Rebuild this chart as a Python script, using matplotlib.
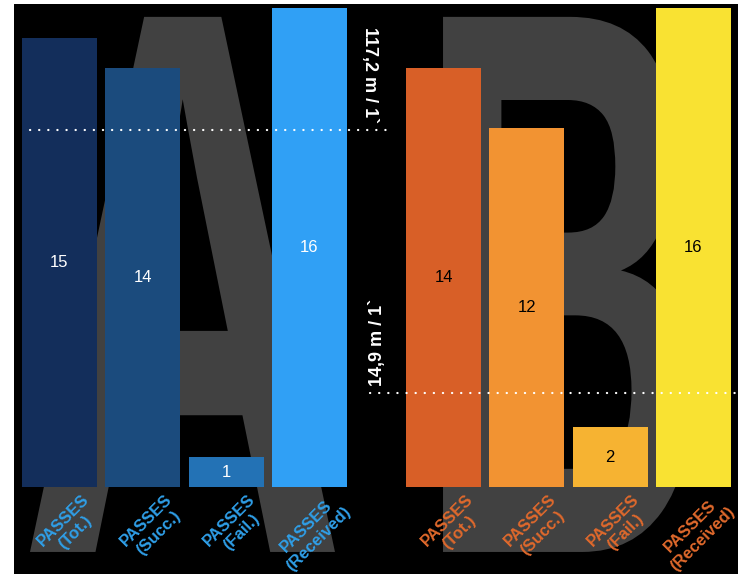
import matplotlib.pyplot as plt
from matplotlib.textpath import TextPath
from matplotlib.patches import PathPatch
from matplotlib.font_manager import FontProperties
from matplotlib.transforms import Affine2D

# data
categories = ["PASSES\n(Tot.)", "PASSES\n(Succ.)", "PASSES\n(Fail.)", "PASSES\n(Received)"]
team_a = [15, 14, 1, 16]
team_b = [14, 12, 2, 16]
ref_a = 11.92   # 117,2 m / 1`
ref_b = 3.14    # 14,9 m / 1`
ref_a_label = "117,2 m / 1`"
ref_b_label = "14,9 m / 1`"

colors_a = ["#132e5b", "#1b4b7d", "#2372b5", "#30a0f5"]
colors_b = ["#d85f27", "#f29332", "#f6b332", "#f9e232"]

plt.rcParams["font.family"] = ["Liberation Sans", "DejaVu Sans"]

fig = plt.figure(figsize=(7.38, 5.74), dpi=100)
fig.patch.set_facecolor("white")
ax = fig.add_axes([14 / 738, 0, 724 / 738, 570 / 574])
ax.set_xlim(-0.546, 8.145)
ax.set_ylim(-2.906, 16.13)
ax.axis("off")
ax.add_patch(plt.Rectangle((0, 0), 1, 1, transform=ax.transAxes, color="black", zorder=0))

# big background letters
fp = FontProperties(family="Liberation Sans", weight="bold")


def big_letter(ch, x0, x1, y0, y1):
    p = TextPath((0, 0), ch, size=1, prop=fp)
    ext = p.get_extents()
    tr = (Affine2D().translate(-ext.x0, -ext.y0)
          .scale((x1 - x0) / ext.width, (y1 - y0) / ext.height)
          .translate(x0, y0))
    ax.add_patch(PathPatch(tr.transform_path(p), facecolor="#414141",
                           edgecolor="none", zorder=1))


big_letter("A", -0.354, 3.307, -2.17, 15.70)
big_letter("B", 4.604, 7.57, -2.17, 15.70)

pos_a = [0, 1, 2, 3]
pos_b = [4.61, 5.61, 6.61, 7.61]

ax.bar(pos_a, team_a, width=0.9, color=colors_a, zorder=2)
ax.bar(pos_b, team_b, width=0.9, color=colors_b, zorder=2)

for x, v in zip(pos_a, team_a):
    ax.text(x, v / 2, str(v), color="white", ha="center", va="center",
            fontsize=12, zorder=4)
for x, v in zip(pos_b, team_b):
    ax.text(x, v / 2, str(v), color="black", ha="center", va="center",
            fontsize=12, zorder=4)

for x, lab in zip(pos_a, categories):
    ax.text(x + 0.26, -0.15, lab, color="#2f9fe8", rotation=45, ha="right", va="top",
            rotation_mode="anchor", multialignment="center", fontsize=12,
            fontweight="bold", zorder=4)
for x, lab in zip(pos_b, categories):
    ax.text(x + 0.26, -0.15, lab, color="#e0692c", rotation=45, ha="right", va="top",
            rotation_mode="anchor", multialignment="center", fontsize=12,
            fontweight="bold", zorder=4)

# reference lines
ax.plot([-0.354, 3.99], [ref_a, ref_a], color="white", lw=1.6,
        linestyle=(0, (0.1, 4)), dash_capstyle="round", zorder=3)
ax.plot([3.73, 8.145], [ref_b, ref_b], color="white", lw=1.6,
        linestyle=(0, (0.1, 4)), dash_capstyle="round", zorder=3)
ax.text(3.727, 13.76, ref_a_label, color="white", rotation=-90, ha="center",
        va="center", fontsize=13, fontweight="bold", zorder=4)
ax.text(3.82, 4.84, ref_b_label, color="white", rotation=90, ha="center",
        va="center", fontsize=13, fontweight="bold", zorder=4)

fig.savefig("out.png", dpi=100, facecolor="white")
